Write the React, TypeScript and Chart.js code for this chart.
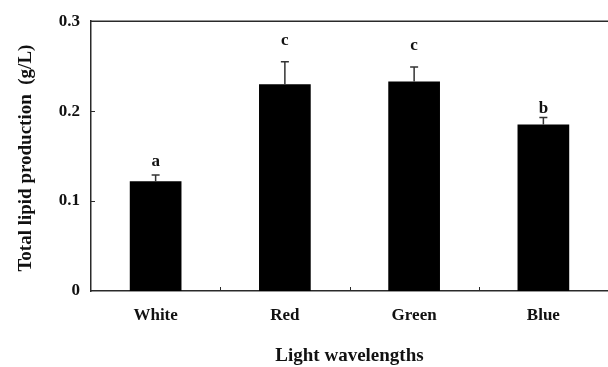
import React, { useEffect, useRef } from "react";
import { Chart, registerables } from "chart.js";

Chart.register(...registerables);

const categories = ["White", "Red", "Green", "Blue"];
const lipidValues = [0.122, 0.230, 0.233, 0.185];
const lipidErrors = [0.007, 0.025, 0.016, 0.008];
const groupLetters = ["a", "c", "c", "b"];
// baseline level (g/L) at which each significance letter sits
const letterLevels = [0.139, 0.273, 0.268, 0.198];
const yTicks = [0, 0.1, 0.2, 0.3];

const SERIF = "'Liberation Serif', 'Times New Roman', serif";
const AXIS_COLOR = "#2a2a2a";

// Error bars, significance letters, frame line, inside tick marks and axis titles
const decorations = {
  id: "decorations",
  afterDatasetsDraw(chart: any) {
    const { ctx, chartArea, scales } = chart;
    const x = scales.x;
    const y = scales.y;
    ctx.save();

    // error bars (upper whisker only)
    ctx.strokeStyle = "#333";
    ctx.lineWidth = 1.5;
    lipidValues.forEach((v, i) => {
      const cx = x.getPixelForValue(i);
      const y0 = y.getPixelForValue(v);
      const y1 = y.getPixelForValue(v + lipidErrors[i]);
      ctx.beginPath();
      ctx.moveTo(cx, y0);
      ctx.lineTo(cx, y1);
      ctx.moveTo(cx - 4, y1);
      ctx.lineTo(cx + 4, y1);
      ctx.stroke();
    });

    // significance letters
    ctx.fillStyle = "#111";
    ctx.font = `bold 17px ${SERIF}`;
    ctx.textAlign = "center";
    ctx.textBaseline = "alphabetic";
    groupLetters.forEach((letter, i) => {
      ctx.fillText(letter, x.getPixelForValue(i), y.getPixelForValue(letterLevels[i]));
    });

    // top frame line
    ctx.strokeStyle = AXIS_COLOR;
    ctx.lineWidth = 1.5;
    ctx.beginPath();
    ctx.moveTo(chartArea.left, chartArea.top);
    ctx.lineTo(chartArea.right, chartArea.top);
    ctx.stroke();

    // y ticks pointing inwards
    ctx.lineWidth = 1;
    yTicks.slice(1, -1).forEach((t) => {
      const py = Math.round(y.getPixelForValue(t)) + 0.5;
      ctx.beginPath();
      ctx.moveTo(chartArea.left, py);
      ctx.lineTo(chartArea.left + 4, py);
      ctx.stroke();
    });

    // x ticks between categories, pointing inwards
    for (let i = 0; i < categories.length - 1; i++) {
      const px = Math.round((x.getPixelForValue(i) + x.getPixelForValue(i + 1)) / 2) + 0.5;
      ctx.beginPath();
      ctx.moveTo(px, chartArea.bottom);
      ctx.lineTo(px, chartArea.bottom - 4);
      ctx.stroke();
    }

    // axis titles
    ctx.fillStyle = "#111";
    ctx.font = `bold 19px ${SERIF}`;
    ctx.textAlign = "center";
    ctx.textBaseline = "alphabetic";
    ctx.fillText("Light wavelengths", (chartArea.left + chartArea.right) / 2, 361);

    ctx.translate(31, (chartArea.top + chartArea.bottom) / 2 + 2);
    ctx.rotate(-Math.PI / 2);
    ctx.fillText("Total lipid production  (g/L)", 0, 0);
    ctx.restore();
  },
};

export default function App() {
  const canvasRef = useRef<HTMLCanvasElement | null>(null);

  useEffect(() => {
    if (!canvasRef.current) return;
    const chart = new Chart(canvasRef.current, {
      type: "bar",
      data: {
        labels: categories,
        datasets: [
          {
            data: lipidValues,
            backgroundColor: "#000",
            borderWidth: 0,
            categoryPercentage: 0.4,
            barPercentage: 1,
          },
        ],
      },
      options: {
        animation: false,
        responsive: false,
        maintainAspectRatio: false,
        layout: { padding: { top: 20, right: 0, left: 0, bottom: 0 } },
        plugins: {
          legend: { display: false },
          tooltip: { enabled: false },
        },
        scales: {
          x: {
            grid: { display: false, drawTicks: false },
            border: { display: true, color: AXIS_COLOR, width: 1.5 },
            ticks: {
              color: "#111",
              font: { family: SERIF, size: 17, weight: "bold" },
              padding: 14,
            },
            afterFit(scale: any) {
              scale.height = 76;
            },
          },
          y: {
            min: 0,
            max: 0.3,
            grid: { display: false, drawTicks: false },
            border: { display: true, color: AXIS_COLOR, width: 1.5 },
            afterBuildTicks(scale: any) {
              scale.ticks = yTicks.map((v) => ({ value: v }));
            },
            ticks: {
              color: "#111",
              font: { family: SERIF, size: 17, weight: "bold" },
              padding: 11,
              callback: (v: any) => (Number(v) === 0 ? "0" : Number(v).toFixed(1)),
            },
            afterFit(scale: any) {
              scale.width = 91;
            },
          },
        },
      },
      plugins: [decorations],
    });
    return () => chart.destroy();
  }, []);

  return (
    <div style={{ position: "absolute", left: 0, top: 0, width: 608, height: 367, background: "#fff" }}>
      <canvas ref={canvasRef} width={608} height={367} style={{ display: "block" }} />
    </div>
  );
}
